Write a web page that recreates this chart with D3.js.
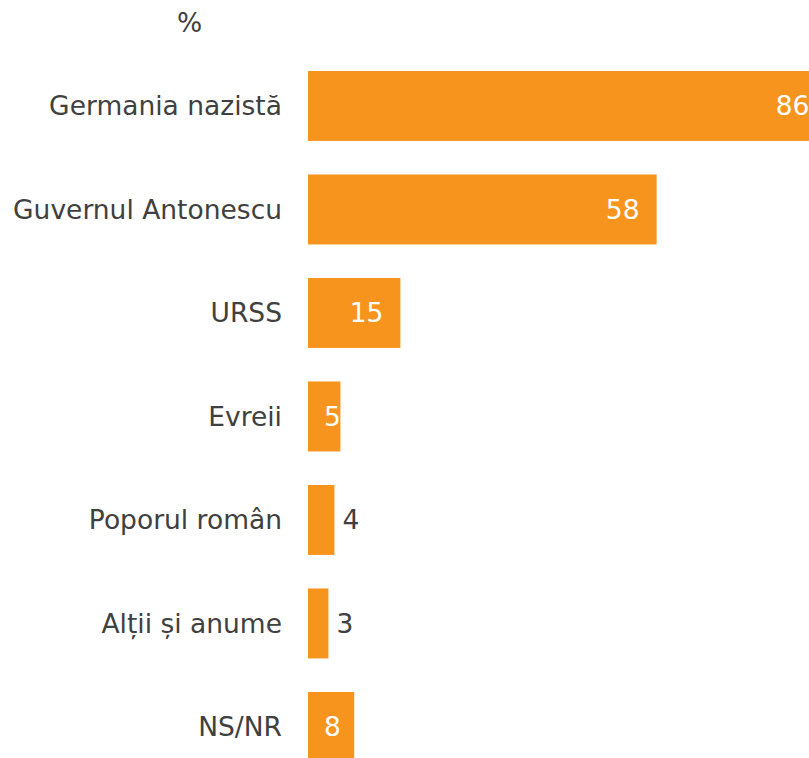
<!DOCTYPE html>
<meta charset="utf-8">
<head>
	<title>Bar chart</title>
	<script src="https://cdnjs.cloudflare.com/ajax/libs/d3/7.8.5/d3.min.js" charset="utf-8"></script>
</head>
<style type="text/css">
	body {
		margin: 0;
		font-family: Verdana, "DejaVu Sans", sans-serif;
		background: #fff;
		overflow: hidden;
	}
	text {
		font-size: 26.5px;
		fill: #404040;
	}
	.bar {
		fill: #F7941D;
	}
	.label.inside {
		fill: #fff;
	}
</style>
<body>
	<div id="chart"></div>
	<script>
		// categories and values (%), top to bottom
		var categories = ["Germania nazistă", "Guvernul Antonescu", "URSS", "Evreii", "Poporul român", "Alții și anume", "NS/NR"];
		var values = [86.4, 58.1, 15.4, 5.4, 4.4, 3.4, 7.7];
		var unitLabel = "%";

		var width = 809, height = 758;
		var x0 = 308;
		var fontSize = 26.5;

		var svg = d3.select("#chart").append("svg")
			.attr("width", width)
			.attr("height", height);

		var xScale = d3.scaleLinear()
			.domain([0, 100])
			.range([x0, x0 + 600]);

		var yScale = d3.scaleBand()
			.domain(categories)
			.range([54.2, 778.7])
			.paddingInner(0.324)
			.paddingOuter(0.162);

		var data = categories.map(function(c, i) { return {name: c, value: values[i]}; });

		svg.append("text")
			.attr("x", 177)
			.attr("y", 32)
			.text(unitLabel);

		// bars
		svg.selectAll(".bar")
			.data(data)
		 .enter().append("rect")
			.attr("class", "bar")
			.attr("x", xScale(0))
			.attr("y", function(d) { return yScale(d.name); })
			.attr("width", function(d) { return xScale(d.value) - xScale(0); })
			.attr("height", yScale.bandwidth());

		// category labels (no axis line)
		var yAxis = svg.append("g")
			.attr("transform", "translate(" + (x0 - 26) + ",0)")
			.call(d3.axisLeft(yScale).tickSize(0).tickPadding(0));
		yAxis.select(".domain").remove();
		yAxis.selectAll("text")
			.attr("fill", null)
			.style("font-family", "Verdana, 'DejaVu Sans', sans-serif")
			.style("font-size", fontSize + "px")
			.attr("dy", "0.36em");

		// value labels: inside end when they fit, else just outside
		var digitW = 0.636 * fontSize;
		svg.selectAll(".label")
			.data(data)
		 .enter().append("text")
			.attr("class", function(d) {
				var w = xScale(d.value) - xScale(0);
				return w > 28 ? "label inside" : "label outside";
			})
			.attr("y", function(d) { return yScale(d.name) + yScale.bandwidth() / 2; })
			.attr("dy", "0.36em")
			.attr("x", function(d) {
				var end = xScale(d.value);
				var txt = String(Math.round(d.value));
				var tw = txt.length * digitW;
				if (end - xScale(0) > 28) return Math.max(end - 17, xScale(0) + tw + 16);
				return end + 8 + tw;
			})
			.style("text-anchor", "end")
			.text(function(d) { return Math.round(d.value); });
	</script>
</body>
